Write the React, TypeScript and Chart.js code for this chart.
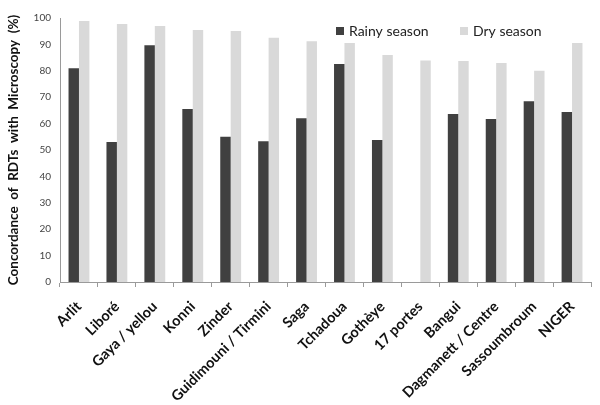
import React, { useEffect, useRef } from "react";
import { Chart, registerables } from "chart.js";

Chart.register(...registerables);

const categories = [
  "Arlit",
  "Liboré",
  "Gaya / yellou",
  "Konni",
  "Zinder",
  "Guidimouni / Tirmini",
  "Saga",
  "Tchadoua",
  "Gothèye",
  "17 portes",
  "Bangui",
  "Dagmanett / Centre",
  "Sassoumbroum",
  "NIGER",
];

const rainySeason = [81, 53, 89.7, 65.5, 55, 53.3, 62, 82.6, 53.8, 0, 63.6, 61.7, 68.5, 64.4];
const drySeason = [98.9, 97.7, 97, 95.5, 95.1, 92.5, 91.2, 90.5, 86, 83.9, 83.7, 83, 80, 90.5];

const seriesLabels = ["Rainy season", "Dry season"];
const yTitle = "Concordance  of  RDTs  with  Microscopy  (%)";

const DARK = "#404040";
const LIGHT = "#d9d9d9";
const AXIS = "#9a9a9a";

const legendPlugin = {
  id: "customLegend",
  afterDraw(chart: any) {
    const { ctx, chartArea } = chart;
    const ds = chart.data.datasets;
    const startX = chartArea.left + 276;
    const y = chartArea.top + 13;
    const offsets = [0, 124];
    ctx.save();
    ctx.font = "14px Lato";
    ctx.textBaseline = "middle";
    ctx.textAlign = "left";
    ds.forEach((d: any, i: number) => {
      const x = startX + offsets[i];
      ctx.fillStyle = d.backgroundColor;
      ctx.fillRect(x, y - 4, 8, 8);
      ctx.fillStyle = "#222";
      ctx.fillText(d.label, x + 13, y);
    });
    ctx.restore();
  },
};

export default function App() {
  const ref = useRef<HTMLCanvasElement>(null);
  useEffect(() => {
    if (!ref.current) return;
    const chart = new Chart(ref.current, {
      type: "bar",
      data: {
        labels: categories,
        datasets: [
          {
            label: seriesLabels[0],
            data: rainySeason,
            backgroundColor: DARK,
            categoryPercentage: 0.55,
            barPercentage: 1.0,
          },
          {
            label: seriesLabels[1],
            data: drySeason,
            backgroundColor: LIGHT,
            categoryPercentage: 0.55,
            barPercentage: 1.0,
          },
        ],
      },
      options: {
        animation: false,
        responsive: true,
        maintainAspectRatio: false,
        layout: { padding: { top: 18, right: 9, left: 0, bottom: 0 } },
        plugins: {
          legend: { display: false },
          tooltip: { enabled: false },
        },
        scales: {
          x: {
            grid: {
              display: true,
              offset: true,
              drawOnChartArea: false,
              drawTicks: true,
              tickLength: 5,
              color: AXIS,
            },
            border: { display: true, color: AXIS },
            ticks: {
              maxRotation: 45,
              minRotation: 45,
              autoSkip: false,
              color: "#111",
              font: { family: "Lato", size: 14.5, weight: "bold" },
              padding: 11,
            },
            afterFit(scale: any) {
              scale.height = 123;
            },
          },
          y: {
            min: 0,
            max: 100,
            ticks: {
              stepSize: 10,
              color: "#444",
              font: { family: "Lato", size: 10 },
              padding: 9,
            },
            grid: { display: false, drawTicks: false },
            border: { display: true, color: AXIS },
            title: {
              display: true,
              text: yTitle,
              color: "#111",
              font: { family: "Lato", size: 13.5, weight: "bold" },
              padding: { top: 6, bottom: 4 },
            },
            afterFit(scale: any) {
              scale.width = 60;
            },
          },
        },
      },
      plugins: [legendPlugin],
    });
    return () => chart.destroy();
  }, []);
  return (
    <div style={{ position: "fixed", left: 0, top: 0, width: 600, height: 405, background: "#fff" }}>
      <canvas ref={ref} />
    </div>
  );
}
